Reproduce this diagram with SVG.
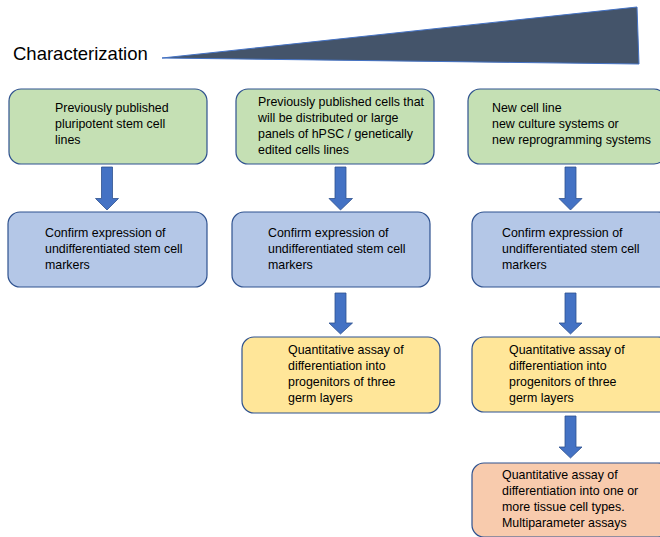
<svg xmlns="http://www.w3.org/2000/svg" width="660" height="537" viewBox="0 0 660 537">
<style>
  .box { stroke: #2f528f; stroke-width: 1.2; }
  .green { fill: #c5e0b4; }
  .blue { fill: #b4c7e7; }
  .yellow { fill: #ffe699; }
  .orange { fill: #f8cbad; }
  .t { font-family: "Liberation Sans", Arial, sans-serif; font-size: 12.4px; fill: #000; }
  .arrow { fill: #4472c4; stroke: #2f528f; stroke-width: 0.8; }
</style>
<rect width="660" height="537" fill="#ffffff"/>

<g id="header">
  <text x="13" y="60" font-family="'Liberation Sans', Arial, sans-serif" font-size="18.5" fill="#000">Characterization</text>
  <polygon points="162,58 637,7 639,64" fill="#44546a" stroke="#4472c4" stroke-width="1"/>
</g>

<g id="n1">
  <rect class="box green" x="9" y="89" width="198" height="75" rx="12"/>
  <text class="t"><tspan x="55" y="112">Previously published</tspan><tspan x="55" y="128">pluripotent stem cell</tspan><tspan x="55" y="144">lines</tspan></text>
</g>
<g id="n2">
  <rect class="box green" x="236" y="89" width="198" height="75" rx="12"/>
  <text class="t"><tspan x="258" y="105.5">Previously published cells that</tspan><tspan x="258" y="121.5">will be distributed or large</tspan><tspan x="258" y="137.5">panels of hPSC / genetically</tspan><tspan x="258" y="153.5">edited cells lines</tspan></text>
</g>
<g id="n3">
  <rect class="box green" x="468" y="89" width="198" height="75" rx="12"/>
  <text class="t"><tspan x="492" y="112">New cell line</tspan><tspan x="492" y="128">new culture systems or</tspan><tspan x="492" y="144">new reprogramming systems</tspan></text>
</g>

<g id="n4">
  <rect class="box blue" x="8" y="212" width="199" height="75" rx="12"/>
  <text class="t"><tspan x="45" y="237">Confirm expression of</tspan><tspan x="45" y="253">undifferentiated stem cell</tspan><tspan x="45" y="269">markers</tspan></text>
</g>
<g id="n5">
  <rect class="box blue" x="232" y="212" width="198" height="75" rx="12"/>
  <text class="t"><tspan x="268" y="237">Confirm expression of</tspan><tspan x="268" y="253">undifferentiated stem cell</tspan><tspan x="268" y="269">markers</tspan></text>
</g>
<g id="n6">
  <rect class="box blue" x="472" y="212" width="198" height="75" rx="12"/>
  <text class="t"><tspan x="502" y="237">Confirm expression of</tspan><tspan x="502" y="253">undifferentiated stem cell</tspan><tspan x="502" y="269">markers</tspan></text>
</g>

<g id="n7">
  <rect class="box yellow" x="242" y="337" width="198" height="76" rx="12"/>
  <text class="t"><tspan x="288" y="354">Quantitative assay of</tspan><tspan x="288" y="370">differentiation into</tspan><tspan x="288" y="386">progenitors of three</tspan><tspan x="288" y="402">germ layers</tspan></text>
</g>
<g id="n8">
  <rect class="box yellow" x="472" y="337" width="198" height="75" rx="12"/>
  <text class="t"><tspan x="509" y="354">Quantitative assay of</tspan><tspan x="509" y="370">differentiation into</tspan><tspan x="509" y="386">progenitors of three</tspan><tspan x="509" y="402">germ layers</tspan></text>
</g>

<g id="n9">
  <rect class="box orange" x="472" y="463" width="198" height="74" rx="12"/>
  <text class="t"><tspan x="502" y="479">Quantitative assay of</tspan><tspan x="502" y="495">differentiation into one or</tspan><tspan x="502" y="511">more tissue cell types.</tspan><tspan x="502" y="527">Multiparameter assays</tspan></text>
</g>

<g id="connectors">
  <polygon class="arrow" points="101.5,167 112.5,167 112.5,198.5 118.5,198.5 107,210 95.5,198.5 101.5,198.5"/>
  <polygon class="arrow" points="335,167 346,167 346,198.5 352.5,198.5 340.5,210 329,198.5 335,198.5"/>
  <polygon class="arrow" points="565,167 576,167 576,198.5 582,198.5 570.5,210 559,198.5 565,198.5"/>
  <polygon class="arrow" points="335,293 346,293 346,323 352.5,323 340.5,334 329,323 335,323"/>
  <polygon class="arrow" points="565,293 576,293 576,323 582,323 570.5,334 559,323 565,323"/>
  <polygon class="arrow" points="565,416 576,416 576,447 582,447 570.5,458 559,447 565,447"/>
</g>
</svg>
